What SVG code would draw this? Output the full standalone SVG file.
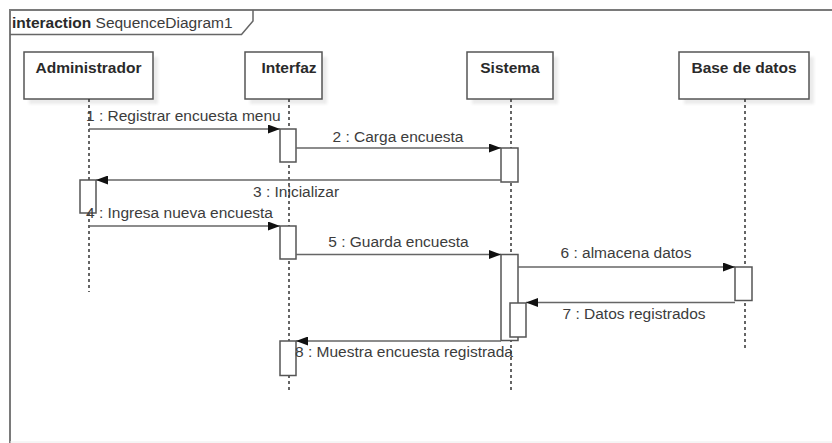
<svg xmlns="http://www.w3.org/2000/svg" width="832" height="443" viewBox="0 0 832 443">
<style>
text{font-family:"Liberation Sans",Arial,sans-serif;font-size:15.5px;fill:#3c3c3c}
.b{font-weight:bold;fill:#2a2a2a}
.box{fill:#fff;stroke:#555;stroke-width:1.5}
.shadow{fill:#ebebeb}
.life{stroke:#333;stroke-width:1.5;stroke-dasharray:3 3;fill:none}
.act{fill:#fff;stroke:#555;stroke-width:1.5}
.msg{stroke:#666;stroke-width:1.6;fill:none;marker-end:url(#ah)}
.frame{stroke:#7a7a7a;stroke-width:2;fill:none}
</style>
<defs>
<marker id="ah" markerWidth="12" markerHeight="9" refX="12" refY="4.5" orient="auto" markerUnits="userSpaceOnUse">
<path d="M0,0 L12,4.5 L0,9 Z" fill="#111"/>
</marker>
<filter id="blur" x="-10%" y="-10%" width="120%" height="130%"><feGaussianBlur stdDeviation="1.5"/></filter>
</defs>
<rect width="832" height="443" fill="#fff"/>
<g id="frame">
<path class="frame" d="M10,443 L10,10 L834,10"/>
<line x1="10" y1="442" x2="832" y2="442" stroke="#ececec" stroke-width="1"/>
<path d="M10,34.5 L241.5,34.5 L253,21 L253,10" fill="none" stroke="#666" stroke-width="1.5"/>
<text x="12" y="28"><tspan class="b">interaction</tspan> SequenceDiagram1</text>
</g>
<g id="administrador">
<rect class="shadow" x="29" y="57" width="129" height="47" filter="url(#blur)"/>
<rect class="box" x="24" y="52" width="129" height="47"/>
<text class="b" x="88.5" y="73" text-anchor="middle">Administrador</text>
<line class="life" x1="89" y1="99" x2="89" y2="292"/>
</g>
<g id="interfaz">
<rect class="shadow" x="250" y="57" width="77" height="47" filter="url(#blur)"/>
<rect class="box" x="245" y="52" width="77" height="47"/>
<text class="b" x="289" y="73" text-anchor="middle">Interfaz</text>
<line class="life" x1="289" y1="99" x2="289" y2="392"/>
</g>
<g id="sistema">
<rect class="shadow" x="472" y="57" width="86" height="47" filter="url(#blur)"/>
<rect class="box" x="467" y="52" width="86" height="47"/>
<text class="b" x="510" y="73" text-anchor="middle">Sistema</text>
<line class="life" x1="511" y1="99" x2="511" y2="392"/>
</g>
<g id="base-de-datos">
<rect class="shadow" x="684" y="57" width="130" height="47" filter="url(#blur)"/>
<rect class="box" x="679" y="52" width="130" height="47"/>
<text class="b" x="744" y="73" text-anchor="middle">Base de datos</text>
<line class="life" x1="745" y1="99" x2="745" y2="350"/>
</g>
<g id="activations">
<rect class="act" x="280" y="129" width="16" height="33"/>
<rect class="act" x="501" y="148" width="17" height="34"/>
<rect class="act" x="80" y="180" width="16" height="33"/>
<rect class="act" x="280" y="226" width="16" height="33"/>
<rect class="act" x="501" y="254.5" width="17" height="86"/>
<rect class="act" x="735" y="267" width="17" height="33.5"/>
<rect class="act" x="510" y="303" width="16" height="34"/>
<rect class="act" x="280" y="341" width="16" height="34.5"/>
</g>
<g id="connectors">
<line class="msg" x1="89" y1="129" x2="280" y2="129"/>
<line class="msg" x1="296" y1="148" x2="501" y2="148"/>
<line class="msg" x1="501" y1="180" x2="96" y2="180"/>
<line class="msg" x1="89" y1="226" x2="280" y2="226"/>
<line class="msg" x1="296" y1="254.5" x2="501" y2="254.5"/>
<line class="msg" x1="518" y1="267" x2="735" y2="267"/>
<line class="msg" x1="735" y1="302.5" x2="526" y2="302.5"/>
<line class="msg" x1="501" y1="341" x2="296" y2="341"/>
</g>
<g id="labels">
<text x="86" y="121">1 : Registrar encuesta menu</text>
<text x="398" y="142" text-anchor="middle">2 : Carga encuesta</text>
<text x="253" y="197">3 : Inicializar</text>
<text x="86" y="218">4 : Ingresa nueva encuesta</text>
<text x="398.5" y="247" text-anchor="middle">5 : Guarda encuesta</text>
<text x="626" y="258" text-anchor="middle">6 : almacena datos</text>
<text x="634" y="319" text-anchor="middle">7 : Datos registrados</text>
<text x="295" y="357">8 : Muestra encuesta registrada</text>
</g>
</svg>
